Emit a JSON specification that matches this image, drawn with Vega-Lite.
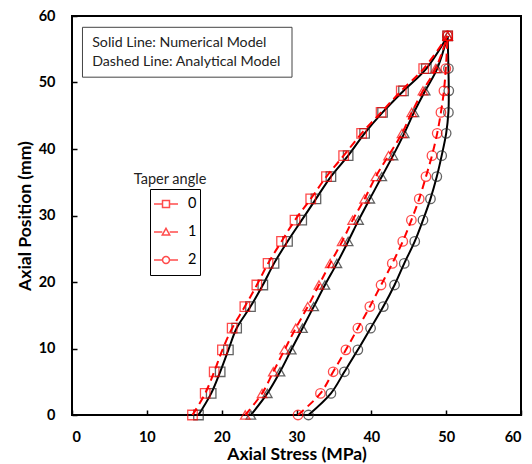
{
  "$schema": "https://vega.github.io/schema/vega-lite/v6.json",
  "width": 449,
  "height": 399,
  "autosize": {"type": "none"},
  "padding": {"left": 72, "top": 16, "right": 11, "bottom": 49},
  "config": {
    "font": "Lato",
    "view": {"stroke": "black", "strokeWidth": 2},
    "axis": {
      "grid": false,
      "domain": false,
      "tickColor": "black",
      "tickWidth": 1.5,
      "tickSize": -5,
      "labelFont": "Lato",
      "labelFontSize": 14.5,
      "labelFontWeight": "bold",
      "labelColor": "black",
      "titleFont": "Lato",
      "titleFontSize": 17.5,
      "titleFontWeight": "bold",
      "titleColor": "black"
    }
  },
  "resolve": {"scale": {"shape": "independent"}, "legend": {"shape": "independent"}},
  "datasets": {
    "curves": [
      {"model": "Numerical", "taper": "0", "pos": 0, "stress": 16.9},
      {"model": "Numerical", "taper": "0", "pos": 3.25, "stress": 18.6},
      {"model": "Numerical", "taper": "0", "pos": 6.5, "stress": 19.8},
      {"model": "Numerical", "taper": "0", "pos": 9.8, "stress": 20.9},
      {"model": "Numerical", "taper": "0", "pos": 13.05, "stress": 22.0},
      {"model": "Numerical", "taper": "0", "pos": 16.3, "stress": 23.85},
      {"model": "Numerical", "taper": "0", "pos": 19.55, "stress": 25.5},
      {"model": "Numerical", "taper": "0", "pos": 22.8, "stress": 27.0},
      {"model": "Numerical", "taper": "0", "pos": 26.1, "stress": 28.8},
      {"model": "Numerical", "taper": "0", "pos": 29.3, "stress": 30.7},
      {"model": "Numerical", "taper": "0", "pos": 32.5, "stress": 32.6},
      {"model": "Numerical", "taper": "0", "pos": 35.85, "stress": 34.6},
      {"model": "Numerical", "taper": "0", "pos": 39.0, "stress": 36.9},
      {"model": "Numerical", "taper": "0", "pos": 42.35, "stress": 39.1},
      {"model": "Numerical", "taper": "0", "pos": 45.5, "stress": 41.5},
      {"model": "Numerical", "taper": "0", "pos": 48.75, "stress": 44.3},
      {"model": "Numerical", "taper": "0", "pos": 52.1, "stress": 47.35},
      {"model": "Numerical", "taper": "0", "pos": 57.0, "stress": 50.2},
      {"model": "Analytical", "taper": "0", "pos": 0, "stress": 16.1},
      {"model": "Analytical", "taper": "0", "pos": 3.25, "stress": 17.8},
      {"model": "Analytical", "taper": "0", "pos": 6.5, "stress": 19.0},
      {"model": "Analytical", "taper": "0", "pos": 9.8, "stress": 20.1},
      {"model": "Analytical", "taper": "0", "pos": 13.05, "stress": 21.4},
      {"model": "Analytical", "taper": "0", "pos": 16.3, "stress": 23.1},
      {"model": "Analytical", "taper": "0", "pos": 19.55, "stress": 24.7},
      {"model": "Analytical", "taper": "0", "pos": 22.8, "stress": 26.2},
      {"model": "Analytical", "taper": "0", "pos": 26.1, "stress": 28.0},
      {"model": "Analytical", "taper": "0", "pos": 29.3, "stress": 29.8},
      {"model": "Analytical", "taper": "0", "pos": 32.5, "stress": 31.9},
      {"model": "Analytical", "taper": "0", "pos": 35.85, "stress": 34.0},
      {"model": "Analytical", "taper": "0", "pos": 39.0, "stress": 36.3},
      {"model": "Analytical", "taper": "0", "pos": 42.35, "stress": 38.7},
      {"model": "Analytical", "taper": "0", "pos": 45.5, "stress": 41.3},
      {"model": "Analytical", "taper": "0", "pos": 48.75, "stress": 44.0},
      {"model": "Analytical", "taper": "0", "pos": 52.1, "stress": 47.0},
      {"model": "Analytical", "taper": "0", "pos": 57.0, "stress": 50.2},
      {"model": "Numerical", "taper": "1", "pos": 0, "stress": 23.9},
      {"model": "Numerical", "taper": "1", "pos": 3.25, "stress": 26.1},
      {"model": "Numerical", "taper": "1", "pos": 6.5, "stress": 27.8},
      {"model": "Numerical", "taper": "1", "pos": 9.8, "stress": 29.3},
      {"model": "Numerical", "taper": "1", "pos": 13.05, "stress": 30.8},
      {"model": "Numerical", "taper": "1", "pos": 16.3, "stress": 32.3},
      {"model": "Numerical", "taper": "1", "pos": 19.55, "stress": 33.8},
      {"model": "Numerical", "taper": "1", "pos": 22.8, "stress": 35.4},
      {"model": "Numerical", "taper": "1", "pos": 26.1, "stress": 36.9},
      {"model": "Numerical", "taper": "1", "pos": 29.3, "stress": 38.3},
      {"model": "Numerical", "taper": "1", "pos": 32.5, "stress": 39.8},
      {"model": "Numerical", "taper": "1", "pos": 35.85, "stress": 41.4},
      {"model": "Numerical", "taper": "1", "pos": 39.0, "stress": 42.9},
      {"model": "Numerical", "taper": "1", "pos": 42.35, "stress": 44.4},
      {"model": "Numerical", "taper": "1", "pos": 45.5, "stress": 45.7},
      {"model": "Numerical", "taper": "1", "pos": 48.75, "stress": 47.2},
      {"model": "Numerical", "taper": "1", "pos": 52.1, "stress": 48.8},
      {"model": "Numerical", "taper": "1", "pos": 57.0, "stress": 50.2},
      {"model": "Analytical", "taper": "1", "pos": 0, "stress": 23.15},
      {"model": "Analytical", "taper": "1", "pos": 3.25, "stress": 25.4},
      {"model": "Analytical", "taper": "1", "pos": 6.5, "stress": 26.9},
      {"model": "Analytical", "taper": "1", "pos": 9.8, "stress": 28.4},
      {"model": "Analytical", "taper": "1", "pos": 13.05, "stress": 29.9},
      {"model": "Analytical", "taper": "1", "pos": 16.3, "stress": 31.5},
      {"model": "Analytical", "taper": "1", "pos": 19.55, "stress": 33.0},
      {"model": "Analytical", "taper": "1", "pos": 22.8, "stress": 34.5},
      {"model": "Analytical", "taper": "1", "pos": 26.1, "stress": 36.1},
      {"model": "Analytical", "taper": "1", "pos": 29.3, "stress": 37.5},
      {"model": "Analytical", "taper": "1", "pos": 32.5, "stress": 39.1},
      {"model": "Analytical", "taper": "1", "pos": 35.85, "stress": 40.6},
      {"model": "Analytical", "taper": "1", "pos": 39.0, "stress": 42.3},
      {"model": "Analytical", "taper": "1", "pos": 42.35, "stress": 44.1},
      {"model": "Analytical", "taper": "1", "pos": 45.5, "stress": 45.4},
      {"model": "Analytical", "taper": "1", "pos": 48.75, "stress": 46.9},
      {"model": "Analytical", "taper": "1", "pos": 52.1, "stress": 48.6},
      {"model": "Analytical", "taper": "1", "pos": 57.0, "stress": 50.2},
      {"model": "Numerical", "taper": "2", "pos": 0, "stress": 31.6},
      {"model": "Numerical", "taper": "2", "pos": 3.25, "stress": 34.6},
      {"model": "Numerical", "taper": "2", "pos": 6.5, "stress": 36.4},
      {"model": "Numerical", "taper": "2", "pos": 9.8, "stress": 38.2},
      {"model": "Numerical", "taper": "2", "pos": 13.05, "stress": 39.9},
      {"model": "Numerical", "taper": "2", "pos": 16.3, "stress": 41.6},
      {"model": "Numerical", "taper": "2", "pos": 19.55, "stress": 43.1},
      {"model": "Numerical", "taper": "2", "pos": 22.8, "stress": 44.4},
      {"model": "Numerical", "taper": "2", "pos": 26.1, "stress": 45.8},
      {"model": "Numerical", "taper": "2", "pos": 29.3, "stress": 46.9},
      {"model": "Numerical", "taper": "2", "pos": 32.5, "stress": 47.9},
      {"model": "Numerical", "taper": "2", "pos": 35.85, "stress": 48.75},
      {"model": "Numerical", "taper": "2", "pos": 39.0, "stress": 49.4},
      {"model": "Numerical", "taper": "2", "pos": 42.35, "stress": 50.0},
      {"model": "Numerical", "taper": "2", "pos": 45.5, "stress": 50.3},
      {"model": "Numerical", "taper": "2", "pos": 48.75, "stress": 50.35},
      {"model": "Numerical", "taper": "2", "pos": 52.1, "stress": 50.3},
      {"model": "Numerical", "taper": "2", "pos": 57.0, "stress": 50.2},
      {"model": "Analytical", "taper": "2", "pos": 0, "stress": 30.2},
      {"model": "Analytical", "taper": "2", "pos": 3.25, "stress": 33.2},
      {"model": "Analytical", "taper": "2", "pos": 6.5, "stress": 34.9},
      {"model": "Analytical", "taper": "2", "pos": 9.8, "stress": 36.6},
      {"model": "Analytical", "taper": "2", "pos": 13.05, "stress": 38.2},
      {"model": "Analytical", "taper": "2", "pos": 16.3, "stress": 39.8},
      {"model": "Analytical", "taper": "2", "pos": 19.55, "stress": 41.3},
      {"model": "Analytical", "taper": "2", "pos": 22.8, "stress": 42.8},
      {"model": "Analytical", "taper": "2", "pos": 26.1, "stress": 44.2},
      {"model": "Analytical", "taper": "2", "pos": 29.3, "stress": 45.35},
      {"model": "Analytical", "taper": "2", "pos": 32.5, "stress": 46.4},
      {"model": "Analytical", "taper": "2", "pos": 35.85, "stress": 47.3},
      {"model": "Analytical", "taper": "2", "pos": 39.0, "stress": 48.1},
      {"model": "Analytical", "taper": "2", "pos": 42.35, "stress": 48.8},
      {"model": "Analytical", "taper": "2", "pos": 45.5, "stress": 49.3},
      {"model": "Analytical", "taper": "2", "pos": 48.75, "stress": 49.7},
      {"model": "Analytical", "taper": "2", "pos": 52.1, "stress": 49.95},
      {"model": "Analytical", "taper": "2", "pos": 57.0, "stress": 50.2}
    ],
    "box": [
      {"x1": 1.4, "x2": 29.4, "y1": 50.8, "y2": 58.3}
    ],
    "notes": [
      {"label": "Solid Line: Numerical Model", "x": 2.7, "y": 55.9},
      {"label": "Dashed Line: Analytical Model", "x": 2.7, "y": 53.1}
    ],
    "legendTitle": [
      {"label": "Taper angle", "x": 13.1, "y": 35.3}
    ]
  },
  "layer": [
    {
      "data": {"name": "box"},
      "mark": {"type": "rect", "fill": "white", "stroke": "#444444", "strokeWidth": 1},
      "encoding": {
        "x": {"field": "x1", "type": "quantitative", "scale": {"domain": [0, 60], "nice": false}},
        "x2": {"field": "x2"},
        "y": {"field": "y1", "type": "quantitative", "scale": {"domain": [0, 60], "nice": false}},
        "y2": {"field": "y2"}
      }
    },
    {
      "data": {"name": "notes"},
      "mark": {"type": "text", "align": "left", "baseline": "middle", "font": "Lato", "fontSize": 14.2, "color": "#222222"},
      "encoding": {
        "x": {"field": "x", "type": "quantitative"},
        "y": {"field": "y", "type": "quantitative"},
        "text": {"field": "label"}
      }
    },
    {
      "data": {"name": "legendTitle"},
      "mark": {"type": "text", "align": "center", "baseline": "middle", "font": "Lato", "fontSize": 14.5, "color": "#222222"},
      "encoding": {
        "x": {"field": "x", "type": "quantitative"},
        "y": {"field": "y", "type": "quantitative"},
        "text": {"field": "label"}
      }
    },
    {
      "data": {"name": "curves"},
      "transform": [{"filter": "datum.model == 'Numerical'"}],
      "mark": {"type": "line", "color": "black", "strokeWidth": 2, "interpolate": "catmull-rom"},
      "encoding": {
        "x": {"field": "stress", "type": "quantitative", "scale": {"domain": [0, 60], "nice": false},
              "axis": {"title": "Axial Stress (MPa)", "values": [0, 10, 20, 30, 40, 50, 60], "labelPadding": 20, "titlePadding": 2}},
        "y": {"field": "pos", "type": "quantitative", "scale": {"domain": [0, 60], "nice": false},
              "axis": {"title": "Axial Position (mm)", "values": [0, 10, 20, 30, 40, 50, 60], "labelPadding": 22, "titlePadding": 4}},
        "detail": {"field": "taper"},
        "order": {"field": "pos", "type": "quantitative"}
      }
    },
    {
      "data": {"name": "curves"},
      "transform": [{"filter": "datum.model == 'Numerical'"}],
      "mark": {"type": "point", "filled": false, "color": "#222222", "strokeWidth": 1.3, "size": 90},
      "encoding": {
        "x": {"field": "stress", "type": "quantitative"},
        "y": {"field": "pos", "type": "quantitative"},
        "shape": {"field": "taper", "type": "nominal", "scale": {"domain": ["0", "1", "2"], "range": ["square", "triangle-up", "circle"]}, "legend": null}
      }
    },
    {
      "data": {"name": "curves"},
      "transform": [{"filter": "datum.model == 'Analytical'"}],
      "mark": {"type": "line", "color": "#FF0000", "strokeWidth": 2, "strokeDash": [8, 5], "interpolate": "catmull-rom"},
      "encoding": {
        "x": {"field": "stress", "type": "quantitative"},
        "y": {"field": "pos", "type": "quantitative"},
        "detail": {"field": "taper"},
        "order": {"field": "pos", "type": "quantitative"}
      }
    },
    {
      "data": {"name": "curves"},
      "transform": [{"filter": "datum.model == 'Analytical'"}],
      "mark": {"type": "point", "filled": false, "color": "#FF0000", "strokeWidth": 1.3, "size": 90},
      "encoding": {
        "x": {"field": "stress", "type": "quantitative"},
        "y": {"field": "pos", "type": "quantitative"},
        "shape": {"field": "taper", "type": "nominal", "scale": {"domain": ["0", "1", "2"], "range": ["square", "triangle-up", "circle"]}, "legend": null}
      }
    },
    {
      "data": {"name": "curves"},
      "transform": [{"filter": "datum.model == 'LegendOnly'"}],
      "mark": {"type": "point", "filled": false, "color": "#FF0000", "strokeWidth": 1.5, "size": 80},
      "encoding": {
        "x": {"field": "stress", "type": "quantitative"},
        "y": {"field": "pos", "type": "quantitative"},
        "shape": {
          "field": "taper", "type": "nominal",
          "scale": {
            "domain": ["0", "1", "2"],
            "range": [
              "M-1,0H-0.29M0.29,0H1M-0.29,-0.29H0.29V0.29H-0.29Z",
              "M-1,0H-0.31M0.31,0H1M0,-0.31L0.31,0.25H-0.31Z",
              "M-1,0H-0.29M0.29,0H1M0.29,0A0.29,0.29,0,1,1,-0.29,0A0.29,0.29,0,1,1,0.29,0Z"
            ]
          },
          "legend": {
            "title": null,
            "orient": "none",
            "legendX": 78,
            "legendY": 173,
            "strokeColor": "black",
            "padding": 3,
            "symbolSize": 576,
            "symbolStrokeWidth": 1.5,
            "symbolStrokeColor": "#FF0000",
            "symbolFillColor": "transparent",
            "labelFont": "Lato",
            "labelFontSize": 14.5,
            "labelColor": "black",
            "labelOffset": 9,
            "clipHeight": 24,
            "rowPadding": 4
          }
        }
      }
    }
  ]
}
